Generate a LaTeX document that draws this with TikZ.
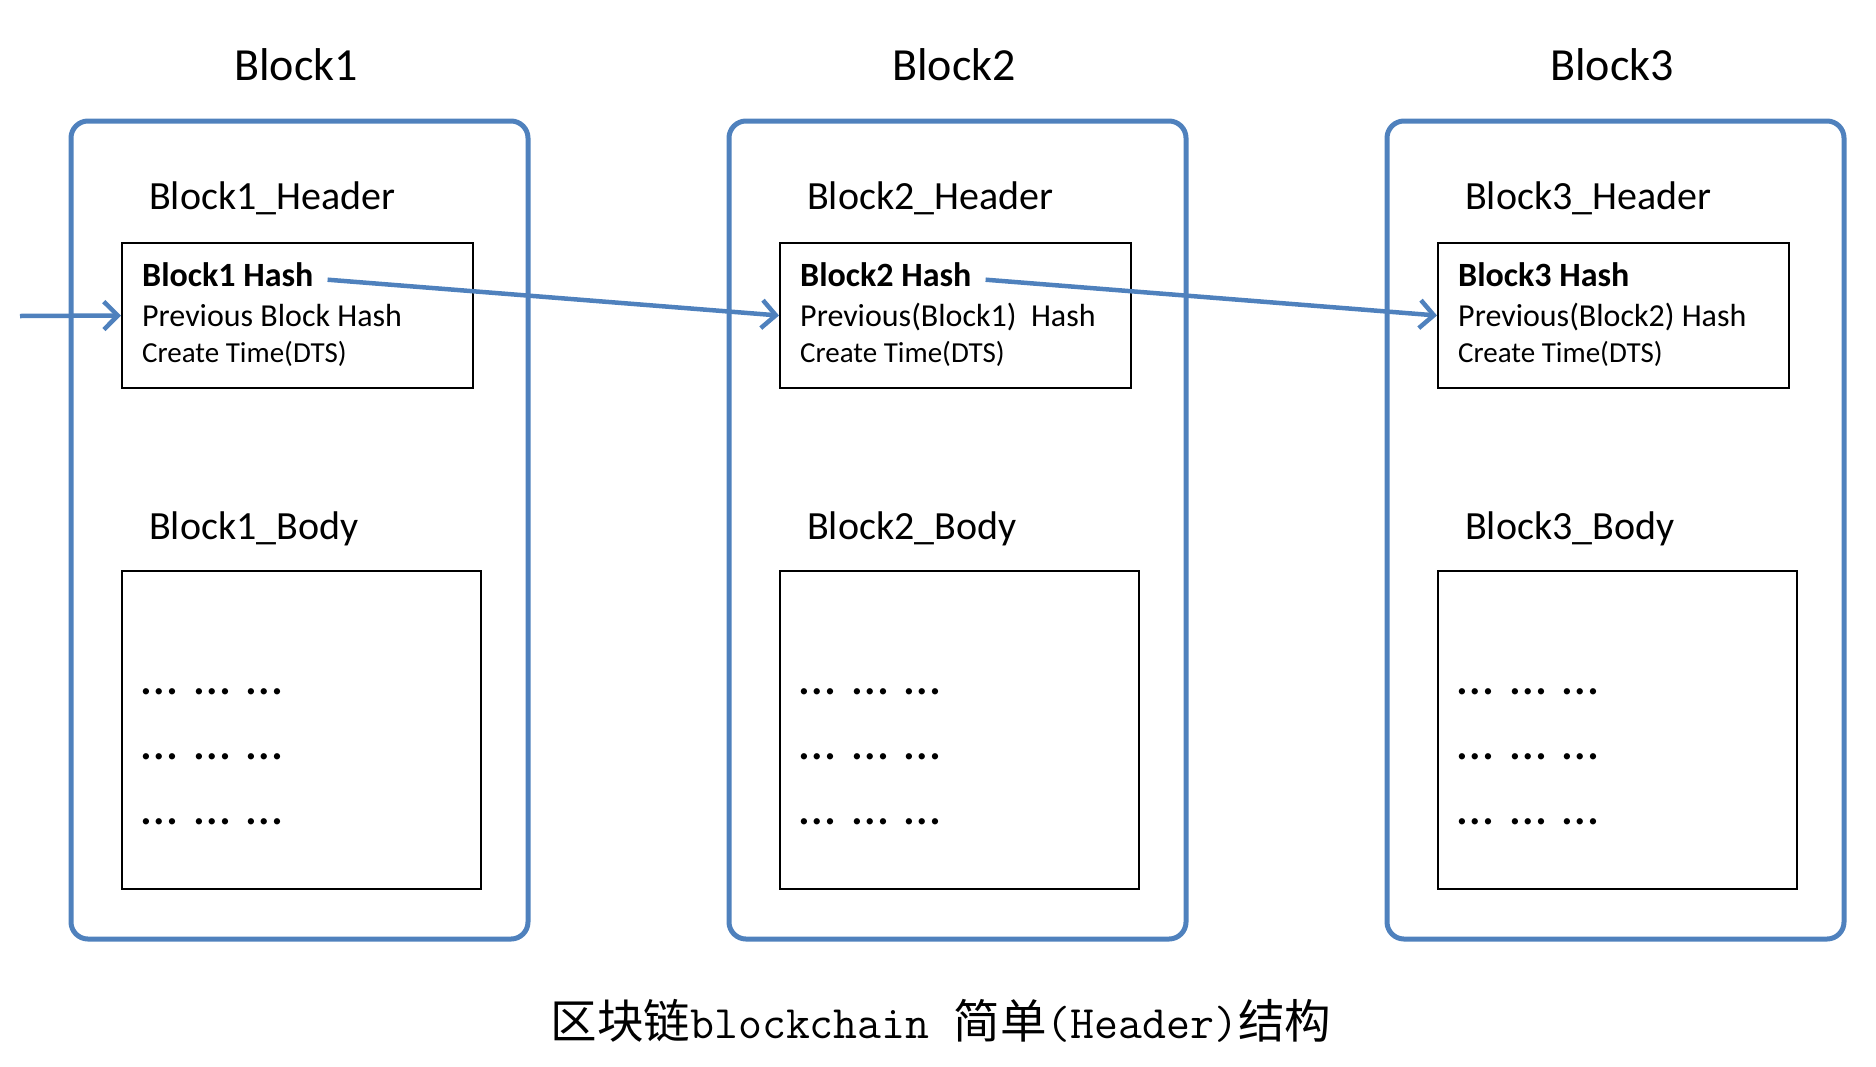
\documentclass[tikz,border=0pt]{standalone}
\usepackage{fontspec}
\setmainfont{Carlito}
\newfontfamily\cjk{Noto Sans CJK SC}
\usetikzlibrary{positioning,arrows.meta}
\definecolor{chainblue}{HTML}{4F81BD}
\newcommand\dotrow{…\hspace{17pt}…\hspace{17pt}…}

\begin{document}
\begin{tikzpicture}[x=1pt,y=-1pt,>={Straight Barb[length=14pt,width=28pt]},
		blockbox/.style={draw=chainblue,line width=5pt,rounded corners=17pt,
			minimum width=457pt,minimum height=818pt,inner sep=0pt},
		hdrbox/.style={draw,line width=2pt,minimum width=351pt,minimum height=145pt,inner sep=0pt},
		bodybox/.style={draw,line width=2pt,minimum width=359pt,minimum height=318pt,inner sep=0pt},
		blocktitle/.style={font=\fontsize{46}{50}\selectfont,inner sep=0pt},
		partlabel/.style={font=\fontsize{40}{46}\selectfont,inner sep=0pt},
		hashline/.style={font=\fontsize{34}{38}\selectfont\bfseries,inner sep=0pt},
		prevline/.style={font=\fontsize{32}{36}\selectfont,inner sep=0pt},
		timetext/.style={font=\fontsize{29}{32}\selectfont,inner sep=0pt},
		dotline/.style={font=\fontsize{52}{56}\selectfont,inner sep=0pt},
		link/.style={->,chainblue,line width=4.5pt}]

	\useasboundingbox (0,0) rectangle (1876,1066);

	% the three blocks
	\node[blockbox] (O1) at (299.5,530) {};
	\node[blockbox] (O2) [right of=O1, node distance=658pt] {};
	\node[blockbox] (O3) [right of=O2, node distance=658pt] {};

	\node[blocktitle] (T1) at (296,65) {Block1};
	\node[blocktitle] (T2) [right of=T1, node distance=658pt] {Block2};
	\node[blocktitle] (T3) [right of=T2, node distance=658pt] {Block3};

	% headers
	\node[hdrbox] (H1) at (297.5,315.5) {};
	\node[hdrbox] (H2) [right of=H1, node distance=658pt] {};
	\node[hdrbox] (H3) [right of=H2, node distance=658pt] {};

	\node[partlabel, above right=33pt and 28pt of H1.north west, anchor=base west] (HL1) {Block1\_Header};
	\node[partlabel, above right=33pt and 28pt of H2.north west, anchor=base west] (HL2) {Block2\_Header};
	\node[partlabel, above right=33pt and 28pt of H3.north west, anchor=base west] (HL3) {Block3\_Header};

	\node[hashline, below right=44.5pt and 21pt of H1.north west, anchor=base west] (hash1) {Block1 Hash};
	\node[prevline, below right=84.5pt and 21pt of H1.north west, anchor=base west] (prev1) {Previous Block Hash};
	\node[timetext, below right=120.5pt and 21pt of H1.north west, anchor=base west] (time1) {Create~Time(DTS)};

	\node[hashline, below right=44.5pt and 21pt of H2.north west, anchor=base west] (hash2) {Block2 Hash};
	\node[prevline, below right=84.5pt and 21pt of H2.north west, anchor=base west] (prev2) {Previous(Block1)~~Hash};
	\node[timetext, below right=120.5pt and 21pt of H2.north west, anchor=base west] (time2) {Create~Time(DTS)};

	\node[hashline, below right=44.5pt and 21pt of H3.north west, anchor=base west] (hash3) {Block3 Hash};
	\node[prevline, below right=84.5pt and 21pt of H3.north west, anchor=base west] (prev3) {Previous(Block2) Hash};
	\node[timetext, below right=120.5pt and 21pt of H3.north west, anchor=base west] (time3) {Create~Time(DTS)};

	% bodies
	\node[bodybox] (B1) at (301.5,730) {};
	\node[bodybox] (B2) [right of=B1, node distance=658pt] {};
	\node[bodybox] (B3) [right of=B2, node distance=658pt] {};

	\node[partlabel, above right=31pt and 28pt of B1.north west, anchor=base west] (BL1) {Block1\_Body};
	\node[partlabel, above right=31pt and 28pt of B2.north west, anchor=base west] (BL2) {Block2\_Body};
	\node[partlabel, above right=31pt and 28pt of B3.north west, anchor=base west] (BL3) {Block3\_Body};

	\node[dotline, below right=124pt and 20pt of B1.north west, anchor=base west] (D11) {\dotrow};
	\node[dotline, below right=189pt and 20pt of B1.north west, anchor=base west] (D12) {\dotrow};
	\node[dotline, below right=254pt and 20pt of B1.north west, anchor=base west] (D13) {\dotrow};
	\node[dotline, below right=124pt and 20pt of B2.north west, anchor=base west] (D21) {\dotrow};
	\node[dotline, below right=189pt and 20pt of B2.north west, anchor=base west] (D22) {\dotrow};
	\node[dotline, below right=254pt and 20pt of B2.north west, anchor=base west] (D23) {\dotrow};
	\node[dotline, below right=124pt and 20pt of B3.north west, anchor=base west] (D31) {\dotrow};
	\node[dotline, below right=189pt and 20pt of B3.north west, anchor=base west] (D32) {\dotrow};
	\node[dotline, below right=254pt and 20pt of B3.north west, anchor=base west] (D33) {\dotrow};

	\node[font=\fontsize{46.5}{50}\selectfont, anchor=base] (caption) at (941,1038)
		{{\cjk 区块链}{\ttfamily blockchain }{\cjk 简单}{\ttfamily (Header)}{\cjk 结构}};

	% hash links
	\coordinate (entry) at (20,316);
	\draw[link] (entry) -- (H1.west);
	\draw[link] ([xshift=14pt,yshift=-5pt]hash1.east) -- (H2.west);
	\draw[link] ([xshift=14pt,yshift=-5pt]hash2.east) -- (H3.west);

\end{tikzpicture}
\end{document}
